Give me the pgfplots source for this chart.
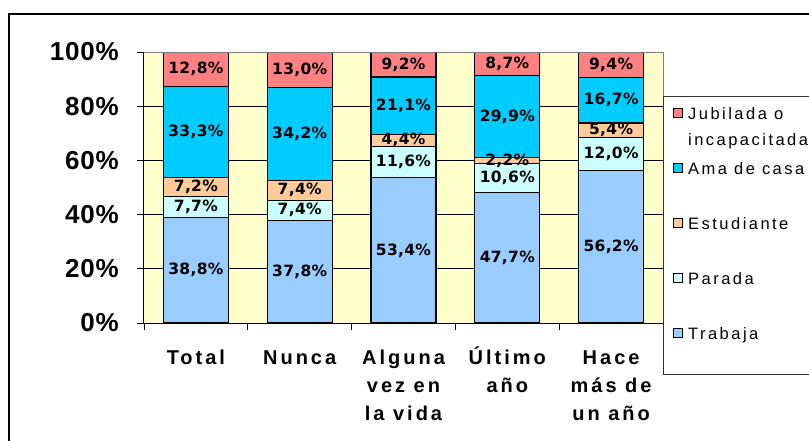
\documentclass[border=0pt]{standalone}
\usepackage{pgfplots}
\pgfplotsset{compat=1.18}
\usepackage{pgfplotstable}
\usepackage{fontspec}
\setmainfont{Liberation Sans}
\newfontfamily\trk[LetterSpace=15]{Liberation Sans}
\newfontfamily\ytk[LetterSpace=3]{Liberation Sans}
\newfontfamily\blab[LetterSpace=2]{DejaVu Sans}
\newcommand{\ml}[1]{\begin{tabular}[t]{@{}c@{}}#1\end{tabular}}
\definecolor{cTrab}{HTML}{99CCFF}
\definecolor{cPar}{HTML}{CCFFFF}
\definecolor{cEst}{HTML}{FFCC99}
\definecolor{cAma}{HTML}{00CCFF}
\definecolor{cJub}{HTML}{FF8080}
\definecolor{cBg}{HTML}{FFFFCC}

% shares normalised to 100% (stacked 100% chart)
\pgfplotstableread{
x Trab Par Est Ama Jub
0 38.88 7.72 7.21 33.37 12.83
1 37.88 7.41 7.41 34.27 13.03
2 53.56 11.63 4.41 21.16 9.23
3 48.13 10.70 2.22 30.17 8.78
4 56.37 12.04 5.42 16.75 9.43
}\datatab

% printed labels at the middle of each segment
\pgfplotstableread{
x y l
0 19.44 38,8
0 42.74 7,7
0 50.21 7,2
0 70.50 33,3
0 93.60 12,8
1 18.94 37,8
1 41.58 7,4
1 49.00 7,4
1 69.83 34,2
1 93.48 13,0
2 26.78 53,4
2 59.38 11,6
2 67.40 4,4
2 80.18 21,1
2 95.38 9,2
3 24.07 47,7
3 53.48 10,6
3 59.94 2,2
3 76.14 29,9
3 95.61 8,7
4 28.19 56,2
4 62.39 12,0
4 71.12 5,4
4 82.21 16,7
4 95.30 9,4
}\labtab

\begin{document}
\begin{tikzpicture}
\useasboundingbox (-144pt,-117pt) rectangle (665pt,323pt);
\draw[line width=1.8pt] (-135pt,-140pt) -- (-135pt,309pt) -- (720pt,309pt);
\begin{axis}[
  at={(0pt,0pt)}, anchor=south west,
  scale only axis, width=519pt, height=271pt,
  xmin=-0.5, xmax=4.5, ymin=0, ymax=100,
  ybar stacked, bar width=65pt,
  axis background/.style={fill=cBg},
  axis x line*=bottom, axis y line*=left,
  axis line style={black, line width=1pt, -},
  ytick={0,20,...,100},
  yticklabels={0\%,20\%,40\%,60\%,80\%,100\%},
  ymajorgrids, grid style={black, line width=0.8pt},
  xtick={0,...,4},
  xticklabels={\ml{Total},\ml{Nunca},\ml{Alguna\\vez en\\la vida},\ml{Último\\año},\ml{Hace\\más de\\un año}},
  minor xtick={-0.5,0.5,1.5,2.5,3.5},
  tick align=outside,
  major tick length=7pt, minor tick length=7pt,
  major x tick style={draw=none},
  tick style={black, line width=0.8pt},
  yticklabel style={font=\ytk\bfseries\fontsize{26}{26}\selectfont, anchor=east, inner sep=0pt, xshift=-18pt},
  xticklabel style={font=\trk\bfseries\fontsize{20}{28}\selectfont, anchor=north, inner sep=0pt, text height=15pt, yshift=-19pt},
  every axis plot/.append style={draw=black, line width=1.2pt},
  legend style={at={(1,0.838)}, anchor=north west, draw=black!80, line width=0.8pt,
    inner xsep=10pt, inner ysep=11pt, column sep=5pt, row sep=19pt,
    nodes={inner sep=0pt, text height=12pt, text depth=24pt, font=\trk\fontsize{16.5}{26}\selectfont},
    cells={anchor=base west}},
  legend image code/.code={\draw[#1, draw=black, line width=0.8pt] (0pt,2pt) rectangle (9pt,11pt);},
  reverse legend,
  after end axis/.code={\draw[black!50, line width=1pt] (rel axis cs:0,1) -- (rel axis cs:1,1) -- (rel axis cs:1,0);},
]
\addplot[fill=cTrab] table[x=x, y=Trab] \datatab;
\addplot[fill=cPar] table[x=x, y=Par] \datatab;
\addplot[fill=cEst] table[x=x, y=Est] \datatab;
\addplot[fill=cAma] table[x=x, y=Ama] \datatab;
\addplot[fill=cJub] table[x=x, y=Jub] \datatab;
\legend{Trabaja,Parada,Estudiante,Ama de casa,{\begin{tabular}[t]{@{}l@{}}Jubilada o\\incapacitada\end{tabular}}}
\end{axis}
\begin{axis}[
  at={(0pt,0pt)}, anchor=south west,
  scale only axis, width=519pt, height=271pt,
  xmin=-0.5, xmax=4.5, ymin=0, ymax=100,
  hide axis, clip=false,
]
\addplot[draw=none, mark=none, point meta=explicit symbolic,
  nodes near coords={\pgfplotspointmeta\%},
  every node near coord/.style={anchor=center, inner sep=0pt, font=\blab\bfseries\fontsize{15.5}{15.5}\selectfont, text=black}]
  table[x=x, y=y, meta=l] \labtab;
\end{axis}
\end{tikzpicture}
\end{document}
